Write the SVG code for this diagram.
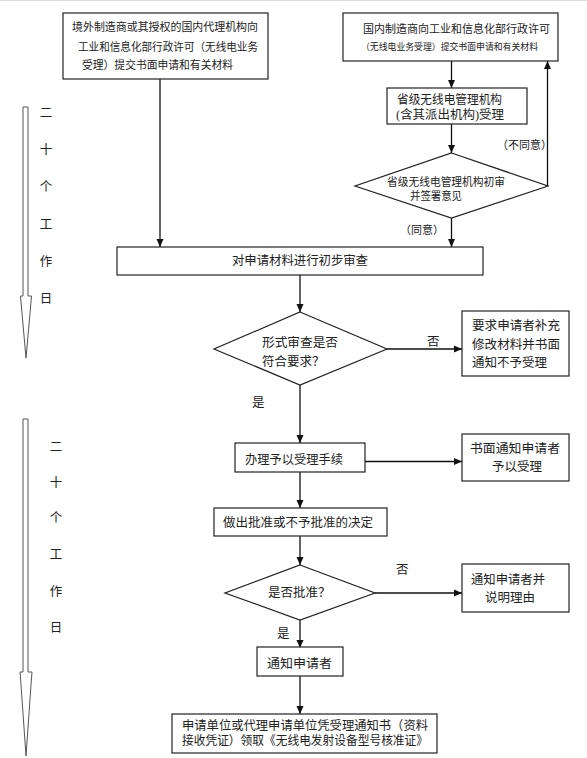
<svg xmlns="http://www.w3.org/2000/svg" width="587" height="758" viewBox="0 0 587 758">
<style>
.b{fill:#fff;stroke:#222;stroke-width:1.2}
.c{fill:none;stroke:#111;stroke-width:1.3}
.h{fill:#fff;stroke:#555;stroke-width:1}
text{font-family:"Liberation Serif","Noto Sans CJK SC",serif;fill:#222;dominant-baseline:central}
.s11{font-size:11px}
.s9{font-size:9px}
.s12{font-size:12.5px}
.m{text-anchor:middle}
</style>
<defs>
<marker id="ah" markerWidth="8" markerHeight="8" refX="8" refY="4" orient="auto" markerUnits="userSpaceOnUse">
<path d="M0,0.5 L8,4 L0,7.5 Z" fill="#111"/>
</marker>
</defs>
<rect width="587" height="758" fill="#fff"/>
<line x1="0" y1="0.5" x2="587" y2="0.5" stroke="#ddd" stroke-width="1"/>

<g id="timeline1">
<path class="h" d="M23,107 H28 V296 H31.5 L31,302 L26,358 L21,302 L20.5,296 H23 Z"/>
<text class="s12" x="46" y="113" font-size="12" text-anchor="middle">二</text>
<text class="s12" x="46" y="150" text-anchor="middle">十</text>
<text class="s12" x="46" y="187" text-anchor="middle">个</text>
<text class="s12" x="46" y="225" text-anchor="middle">工</text>
<text class="s12" x="46" y="262" text-anchor="middle">作</text>
<text class="s12" x="46" y="299" text-anchor="middle">日</text>
</g>

<g id="timeline2">
<path class="h" d="M23,419 H28 V672 H32 L31.5,678 L26,756 L20.5,678 L20,672 H23 Z"/>
<text class="s12" x="56" y="447" text-anchor="middle">二</text>
<text class="s12" x="56" y="483" text-anchor="middle">十</text>
<text class="s12" x="56" y="518" text-anchor="middle">个</text>
<text class="s12" x="56" y="555" text-anchor="middle">工</text>
<text class="s12" x="56" y="592" text-anchor="middle">作</text>
<text class="s12" x="56" y="628" text-anchor="middle">日</text>
</g>

<g id="connectors">
<line class="c" x1="160" y1="79" x2="160" y2="247" marker-end="url(#ah)"/>
<line class="c" x1="451.5" y1="61" x2="451.5" y2="88" marker-end="url(#ah)"/>
<line class="c" x1="451.5" y1="124" x2="451.5" y2="153" marker-end="url(#ah)"/>
<line class="c" x1="547.5" y1="186" x2="547.5" y2="61" marker-end="url(#ah)"/>
<line class="c" x1="451.5" y1="218" x2="451.5" y2="247" marker-end="url(#ah)"/>
<line class="c" x1="300" y1="275" x2="300" y2="312" marker-end="url(#ah)"/>
<line class="c" x1="387" y1="349" x2="462" y2="349" marker-end="url(#ah)"/>
<line class="c" x1="300" y1="385" x2="300" y2="443" marker-end="url(#ah)"/>
<line class="c" x1="365" y1="461.5" x2="462" y2="461.5" marker-end="url(#ah)"/>
<line class="c" x1="300" y1="472" x2="300" y2="508" marker-end="url(#ah)"/>
<line class="c" x1="300" y1="536" x2="300" y2="565" marker-end="url(#ah)"/>
<line class="c" x1="375" y1="593" x2="462" y2="593" marker-end="url(#ah)"/>
<line class="c" x1="300" y1="620" x2="300" y2="648" marker-end="url(#ah)"/>
<line class="c" x1="300" y1="676" x2="300" y2="714" marker-end="url(#ah)"/>
<text class="s11" x="497" y="145">（不同意）</text>
<text class="s11" x="400" y="230">（同意）</text>
<text class="s12" x="427" y="342">否</text>
<text class="s12" x="252" y="403">是</text>
<text class="s12" x="396" y="570">否</text>
<text class="s12" x="277" y="634">是</text>
</g>

<g id="n1">
<rect class="b" x="63" y="13" width="205" height="66"/>
<text class="s11" x="72" y="27" textLength="186" lengthAdjust="spacingAndGlyphs">境外制造商或其授权的国内代理机构向</text>
<text class="s11" x="78" y="47" textLength="180" lengthAdjust="spacingAndGlyphs">工业和信息化部行政许可（无线电业务</text>
<text class="s11" x="82" y="65" textLength="151" lengthAdjust="spacingAndGlyphs">受理）提交书面申请和有关材料</text>
</g>

<g id="n2">
<rect class="b" x="343" y="13" width="215" height="48"/>
<text class="s11" x="363" y="29" textLength="187" lengthAdjust="spacingAndGlyphs">国内制造商向工业和信息化部行政许可</text>
<text class="s9" x="361" y="47" textLength="177" lengthAdjust="spacingAndGlyphs">（无线电业务受理）提交书面申请和有关材料</text>
</g>

<g id="n3">
<rect class="b" x="387" y="88" width="140" height="36"/>
<text class="s12" x="397" y="100" textLength="105" lengthAdjust="spacingAndGlyphs">省级无线电管理机构</text>
<text class="s12" x="396" y="115" textLength="108" lengthAdjust="spacingAndGlyphs">(含其派出机构)受理</text>
</g>

<g id="n4">
<polygon class="b" points="451.5,153 548,186 451.5,218 355,186"/>
<text class="s11" x="387" y="182" textLength="118" lengthAdjust="spacingAndGlyphs">省级无线电管理机构初审</text>
<text class="s11" x="410" y="196" textLength="52" lengthAdjust="spacingAndGlyphs">并签署意见</text>
</g>

<g id="n5">
<rect class="b" x="117" y="247" width="366" height="28"/>
<text class="s12" x="232" y="261" textLength="136" lengthAdjust="spacingAndGlyphs">对申请材料进行初步审查</text>
</g>

<g id="n6">
<polygon class="b" points="300,312 387,349 300,385 214,349"/>
<text class="s12" x="262" y="343" textLength="76" lengthAdjust="spacingAndGlyphs">形式审查是否</text>
<text class="s12" x="262" y="362">符合要求？</text>
</g>

<g id="n7">
<rect class="b" x="462" y="311" width="107" height="65"/>
<text class="s12" x="472" y="326" textLength="88" lengthAdjust="spacingAndGlyphs">要求申请者补充</text>
<text class="s12" x="472" y="345" textLength="88" lengthAdjust="spacingAndGlyphs">修改材料并书面</text>
<text class="s12" x="472" y="363">通知不予受理</text>
</g>

<g id="n8">
<rect class="b" x="235" y="443" width="130" height="29"/>
<text class="s12" x="245" y="460" textLength="98" lengthAdjust="spacingAndGlyphs">办理予以受理手续</text>
</g>

<g id="n9">
<rect class="b" x="462" y="434" width="107" height="47"/>
<text class="s12" x="470" y="449" textLength="90" lengthAdjust="spacingAndGlyphs">书面通知申请者</text>
<text class="s12" x="492" y="467">予以受理</text>
</g>

<g id="n10">
<rect class="b" x="214" y="508" width="173" height="28"/>
<text class="s12" x="223" y="523" textLength="150" lengthAdjust="spacingAndGlyphs">做出批准或不予批准的决定</text>
</g>

<g id="n11">
<polygon class="b" points="300,565 375,593 300,620 225,593"/>
<text class="s12" x="268" y="593">是否批准？</text>
</g>

<g id="n12">
<rect class="b" x="462" y="564" width="107" height="48"/>
<text class="s12" x="471" y="580" textLength="74" lengthAdjust="spacingAndGlyphs">通知申请者并</text>
<text class="s12" x="485" y="598">说明理由</text>
</g>

<g id="n13">
<rect class="b" x="257" y="647" width="86" height="29"/>
<text class="s12" x="267" y="664" font-size="13" textLength="65" lengthAdjust="spacingAndGlyphs">通知申请者</text>
</g>

<g id="n14">
<rect class="b" x="172" y="714" width="265" height="39"/>
<text class="s12" x="182" y="726" textLength="246" lengthAdjust="spacingAndGlyphs">申请单位或代理申请单位凭受理通知书（资料</text>
<text class="s12" x="182" y="741" textLength="246" lengthAdjust="spacingAndGlyphs">接收凭证）领取《无线电发射设备型号核准证》</text>
</g>
</svg>
